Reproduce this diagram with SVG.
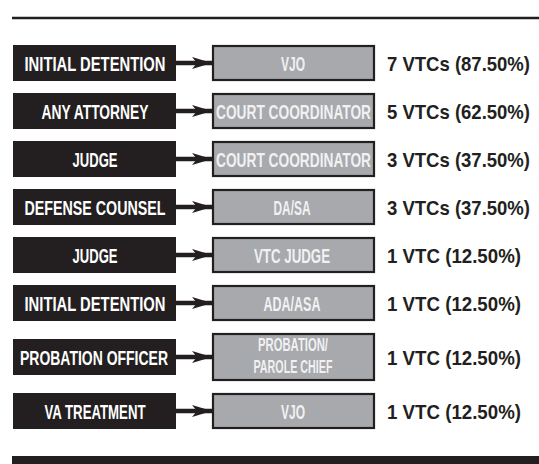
<svg xmlns="http://www.w3.org/2000/svg" width="539" height="464" viewBox="0 0 539 464">
<defs>
<style>
.src{fill:#231f20}
.dst{fill:#a7a9ac;stroke:#231f20;stroke-width:2.2}
.t{font-family:"Liberation Sans",Arial,sans-serif;font-weight:bold;font-size:21px;text-anchor:middle}
.s{font-size:18px}
.w{fill:#ffffff}
.g{fill:#f1f1f2}
.r{fill:#231f20;text-anchor:start}
.conn{stroke:#231f20;stroke-width:4.5;fill:none;marker-end:url(#ah)}
</style>
<marker id="ah" markerUnits="userSpaceOnUse" markerWidth="20" markerHeight="12" refX="20" refY="6" orient="auto">
<path d="M0,0 L20,6 L0,12 L5,6 Z" fill="#231f20"/>
</marker>
</defs>
<rect x="0" y="0" width="539" height="464" fill="#ffffff"/>
<line x1="12" y1="18" x2="539" y2="18" stroke="#231f20" stroke-width="2.5"/>

<g id="connectors">
<line class="conn" x1="176" y1="63" x2="212" y2="63"/>
<line class="conn" x1="176" y1="111" x2="212" y2="111"/>
<line class="conn" x1="176" y1="159" x2="212" y2="159"/>
<line class="conn" x1="176" y1="207" x2="212" y2="207"/>
<line class="conn" x1="176" y1="255" x2="212" y2="255"/>
<line class="conn" x1="176" y1="303" x2="212" y2="303"/>
<line class="conn" x1="176" y1="357" x2="212" y2="357"/>
<line class="conn" x1="176" y1="411" x2="212" y2="411"/>
</g>

<g id="row1">
<g id="src1"><rect class="src" x="13" y="45" width="163" height="36"/><text class="t w" x="95" y="70.5" textLength="141" lengthAdjust="spacingAndGlyphs">INITIAL DETENTION</text></g>
<g id="dst1"><rect class="dst" x="213" y="46" width="161" height="34"/><text class="t g" x="293" y="70.5" textLength="24" lengthAdjust="spacingAndGlyphs">VJO</text></g>
<text class="t r" x="387" y="70.5" textLength="143" lengthAdjust="spacingAndGlyphs">7 VTCs (87.50%)</text>
</g>

<g id="row2">
<g id="src2"><rect class="src" x="13" y="93" width="163" height="36"/><text class="t w" x="95" y="118.5" textLength="107" lengthAdjust="spacingAndGlyphs">ANY ATTORNEY</text></g>
<g id="dst2"><rect class="dst" x="213" y="94" width="161" height="34"/><text class="t g" x="293.5" y="118.5" textLength="155" lengthAdjust="spacingAndGlyphs">COURT COORDINATOR</text></g>
<text class="t r" x="387" y="118.5" textLength="143" lengthAdjust="spacingAndGlyphs">5 VTCs (62.50%)</text>
</g>

<g id="row3">
<g id="src3"><rect class="src" x="13" y="141" width="163" height="36"/><text class="t w" x="95" y="166.5" textLength="45" lengthAdjust="spacingAndGlyphs">JUDGE</text></g>
<g id="dst3"><rect class="dst" x="213" y="142" width="161" height="34"/><text class="t g" x="293.5" y="166.5" textLength="155" lengthAdjust="spacingAndGlyphs">COURT COORDINATOR</text></g>
<text class="t r" x="387" y="166.5" textLength="143" lengthAdjust="spacingAndGlyphs">3 VTCs (37.50%)</text>
</g>

<g id="row4">
<g id="src4"><rect class="src" x="13" y="189" width="163" height="36"/><text class="t w" x="95" y="214.5" textLength="141" lengthAdjust="spacingAndGlyphs">DEFENSE COUNSEL</text></g>
<g id="dst4"><rect class="dst" x="213" y="190" width="161" height="34"/><text class="t g" x="292" y="214.5" textLength="37" lengthAdjust="spacingAndGlyphs">DA/SA</text></g>
<text class="t r" x="387" y="214.5" textLength="143" lengthAdjust="spacingAndGlyphs">3 VTCs (37.50%)</text>
</g>

<g id="row5">
<g id="src5"><rect class="src" x="13" y="237" width="163" height="36"/><text class="t w" x="95" y="262.5" textLength="45" lengthAdjust="spacingAndGlyphs">JUDGE</text></g>
<g id="dst5"><rect class="dst" x="213" y="238" width="161" height="34"/><text class="t g" x="292" y="262.5" textLength="76" lengthAdjust="spacingAndGlyphs">VTC JUDGE</text></g>
<text class="t r" x="387" y="262.5" textLength="134" lengthAdjust="spacingAndGlyphs">1 VTC (12.50%)</text>
</g>

<g id="row6">
<g id="src6"><rect class="src" x="13" y="285" width="163" height="36"/><text class="t w" x="95" y="310.5" textLength="141" lengthAdjust="spacingAndGlyphs">INITIAL DETENTION</text></g>
<g id="dst6"><rect class="dst" x="213" y="286" width="161" height="34"/><text class="t g" x="292" y="310.5" textLength="57" lengthAdjust="spacingAndGlyphs">ADA/ASA</text></g>
<text class="t r" x="387" y="310.5" textLength="134" lengthAdjust="spacingAndGlyphs">1 VTC (12.50%)</text>
</g>

<g id="row7">
<g id="src7"><rect class="src" x="13" y="339" width="163" height="36"/><text class="t w" x="94" y="364.5" textLength="148" lengthAdjust="spacingAndGlyphs">PROBATION OFFICER</text></g>
<g id="dst7"><rect class="dst" x="213" y="334" width="161" height="46"/><text class="t s g" x="293" y="351" textLength="70" lengthAdjust="spacingAndGlyphs">PROBATION/</text><text class="t s g" x="293" y="373" textLength="79" lengthAdjust="spacingAndGlyphs">PAROLE CHIEF</text></g>
<text class="t r" x="387" y="364.5" textLength="134" lengthAdjust="spacingAndGlyphs">1 VTC (12.50%)</text>
</g>

<g id="row8">
<g id="src8"><rect class="src" x="13" y="393" width="163" height="36"/><text class="t w" x="95" y="418.5" textLength="101" lengthAdjust="spacingAndGlyphs">VA TREATMENT</text></g>
<g id="dst8"><rect class="dst" x="213" y="394" width="161" height="34"/><text class="t g" x="293" y="418.5" textLength="24" lengthAdjust="spacingAndGlyphs">VJO</text></g>
<text class="t r" x="387" y="418.5" textLength="134" lengthAdjust="spacingAndGlyphs">1 VTC (12.50%)</text>
</g>

<rect x="12" y="456" width="527" height="8" fill="#231f20"/>
</svg>
